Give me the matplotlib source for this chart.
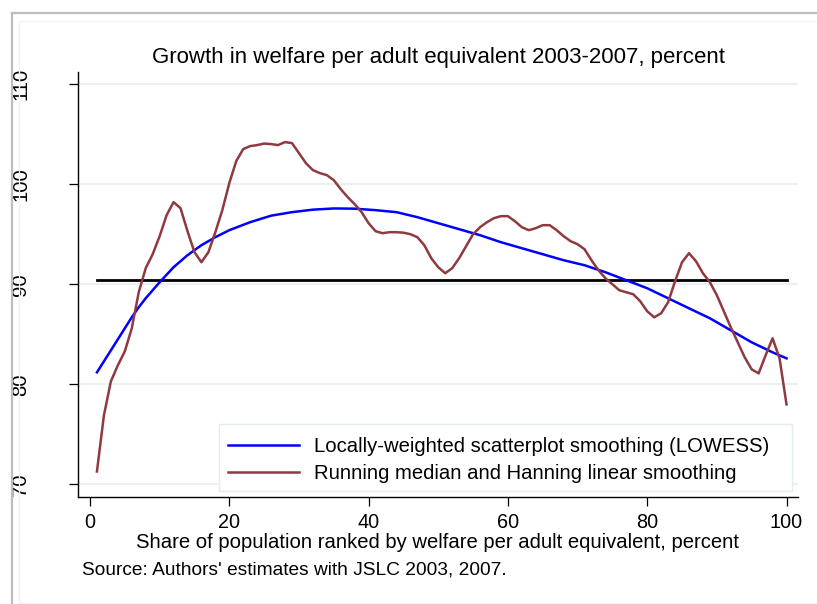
import matplotlib
matplotlib.use("Agg")
import matplotlib.pyplot as plt
from matplotlib.lines import Line2D
from matplotlib.patches import Rectangle

plt.rcParams['font.family'] = ['Liberation Sans', 'DejaVu Sans']

# Population share (percentile) and smoothed growth in welfare
percentile = list(range(1, 101))
running_median = [
    71.3, 76.9, 80.3, 81.9, 83.3, 85.6, 89.2, 91.6, 93.0, 94.8,
    96.9, 98.2, 97.6, 95.3, 93.2, 92.2, 93.2, 95.2, 97.4, 100.1,
    102.3, 103.5, 103.8, 103.9, 104.05, 104.0, 103.9, 104.2, 104.1, 103.1,
    102.1, 101.4, 101.1, 100.9, 100.4, 99.5, 98.7, 98.0, 97.2, 96.1,
    95.3, 95.1, 95.2, 95.2, 95.15, 95.0, 94.7, 93.9, 92.6, 91.7,
    91.1, 91.6, 92.6, 93.8, 95.0, 95.7, 96.2, 96.6, 96.8, 96.8,
    96.3, 95.7, 95.4, 95.6, 95.9, 95.9, 95.4, 94.8, 94.3, 94.0,
    93.5, 92.4, 91.4, 90.6, 90.0, 89.4, 89.2, 89.0, 88.3, 87.3,
    86.7, 87.1, 88.2, 90.3, 92.2, 93.1, 92.3, 91.1, 90.2, 88.9,
    87.3, 85.7, 84.2, 82.7, 81.5, 81.1, 82.9, 84.6, 82.6, 78.0,
]

lowess_x = [1, 2, 3, 4, 5, 6, 7, 8, 9, 10, 12, 14, 16, 18, 20, 23, 26,
            29, 32, 35, 38, 41, 44, 47, 50, 53, 56, 59, 62, 65, 68, 71,
            74, 77, 80, 83, 86, 89, 92, 95, 98, 100]
lowess_y = [81.2, 82.3, 83.4, 84.5, 85.6, 86.7, 87.7, 88.6, 89.4, 90.2,
            91.7, 92.9, 93.9, 94.7, 95.4, 96.2, 96.85, 97.2, 97.45, 97.57,
            97.55, 97.4, 97.2, 96.7, 96.1, 95.5, 94.9, 94.2, 93.6, 93.0,
            92.4, 91.9, 91.2, 90.4, 89.6, 88.6, 87.6, 86.6, 85.4, 84.2,
            83.2, 82.6]

mean_growth = 90.4
mean_span = [1, 100]

xticks = [0, 20, 40, 60, 80, 100]
yticks = [70, 80, 90, 100, 110]

title = "Growth in welfare per adult equivalent 2003-2007, percent"
xlabel = "Share of population ranked by welfare per adult equivalent, percent"
note = "Source: Authors' estimates with JSLC 2003, 2007."
legend_labels = ["Locally-weighted scatterplot smoothing (LOWESS)",
                 "Running median and Hanning linear smoothing"]

W, H = 817, 604
fig = plt.figure(figsize=(W / 100, H / 100), dpi=100)
fig.patch.set_facecolor("white")


def fx(px):
    return px / W


def fy(py):
    return 1 - py / H


# Graph region frames
fig.add_artist(Line2D([fx(11.5), 1], [fy(13), fy(13)], color="#bdbdbd", lw=1.6))
fig.add_artist(Line2D([fx(11.5), fx(11.5)], [fy(13), 0], color="#bdbdbd", lw=1.6))
fig.add_artist(Line2D([fx(19), 1], [fy(21), fy(21)], color="#eef3f5", lw=1.0))
fig.add_artist(Line2D([fx(19), fx(19)], [fy(21), fy(603)], color="#eef3f5", lw=1.0))
fig.add_artist(Line2D([fx(19), 1], [fy(603), fy(603)], color="#eef3f5", lw=1.0))

ax = fig.add_axes([fx(78), fy(497), (798 - 78) / W, (497 - 72) / H])
ax.set_xlim(-1.72, 101.65)
ax.set_ylim(68.75, 111.2)

for y in yticks:
    ax.axhline(y, color="#eaf1f4", lw=1.5, zorder=0)

ax.plot(mean_span, [mean_growth, mean_growth], color="black", lw=2.0, zorder=2)
ax.plot(lowess_x, lowess_y, color="#0000ff", lw=1.8, zorder=3)
ax.plot(percentile, running_median, color="#8f3a3f", lw=1.8, zorder=4)

for side in ("top", "right"):
    ax.spines[side].set_visible(False)
for side in ("left", "bottom"):
    ax.spines[side].set_color("black")
    ax.spines[side].set_linewidth(1.0)

ax.set_xticks(xticks)
ax.set_yticks(yticks)
ax.set_xticklabels([str(t) for t in xticks], fontsize=14.3,
                   family=['Liberation Sans', 'DejaVu Sans'])
ax.set_yticklabels([str(t) for t in yticks], fontsize=14.6, rotation=90,
                   va="center", family=['Liberation Sans', 'DejaVu Sans'])
ax.tick_params(axis="both", direction="out", length=6.5, width=0.9,
               colors="black")
ax.tick_params(axis="x", pad=5)
ax.tick_params(axis="y", pad=28)

fig.text(fx(438), fy(57), title, ha="center", va="center", fontsize=16)
fig.text(fx(438), fy(542), xlabel, ha="center", va="center", fontsize=14.6)
fig.text(fx(82), fy(570), note, ha="left", va="center", fontsize=13.8)

# Legend box, then its entries inside it
fig.add_artist(Rectangle((fx(219), fy(491)), (792 - 219) / W, (491 - 424) / H,
                         transform=fig.transFigure, facecolor="white",
                         edgecolor="#e3ecef", lw=1.0, zorder=5))
handles = [Line2D([], [], color="#0000ff", lw=1.8),
           Line2D([], [], color="#8f3a3f", lw=1.8)]
leg = fig.legend(handles, legend_labels, loc="center left",
                 bbox_to_anchor=(fx(228), fy(460)), borderaxespad=0,
                 fontsize=14.6, handlelength=3.5, handletextpad=0.72,
                 labelspacing=0.4, borderpad=0, frameon=False)
leg.set_zorder(6)

fig.savefig("out.png", dpi=100, facecolor="white")
